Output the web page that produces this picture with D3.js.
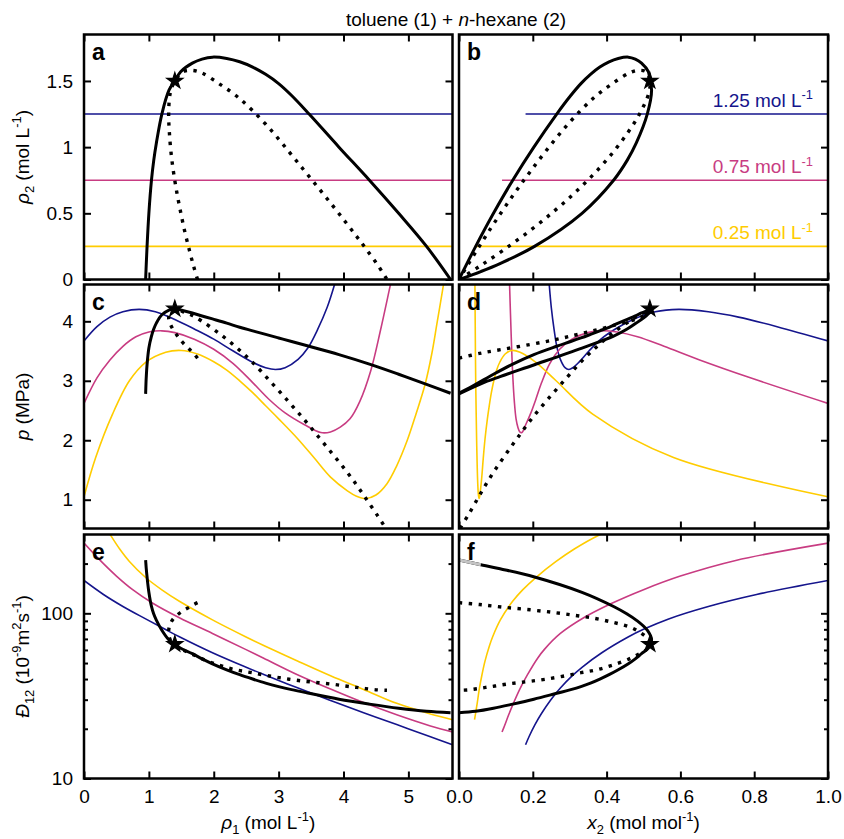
<!DOCTYPE html>
<html>
<head>
<meta charset="utf-8">
<script src="https://cdn.jsdelivr.net/npm/d3@7"></script>
<style>
  body { margin: 0; background: #fff; }
</style>
</head>
<body>
<div id="chart"></div>
<script>
// ---------- data ----------
// isochores (constant rho2, mol/L)
const isoRho2 = [1.25, 0.75, 0.25];
const isoLabels = ["1.25", "0.75", "0.25"];

// pressure (MPa) along each isochore: [rho1, p]
const isoP125 = [[0, 3.67], [0.2, 3.91], [0.4, 4.07], [0.6, 4.16], [0.85, 4.2], [1.1, 4.16], [1.4, 4.03],
  [1.7, 3.87], [2.0, 3.7], [2.3, 3.5], [2.6, 3.31], [2.8, 3.22], [2.95, 3.19], [3.1, 3.22], [3.3, 3.36],
  [3.45, 3.55], [3.6, 3.86], [3.75, 4.24], [3.86, 4.61], [3.92, 4.85]];
const isoP075 = [[0, 2.62], [0.2, 3.05], [0.4, 3.35], [0.6, 3.58], [0.8, 3.74], [1.0, 3.82], [1.2, 3.84],
  [1.4, 3.81], [1.7, 3.7], [2.0, 3.53], [2.3, 3.29], [2.6, 2.97], [2.85, 2.69], [3.1, 2.46], [3.4, 2.26],
  [3.65, 2.13], [3.8, 2.14], [3.95, 2.22], [4.1, 2.36], [4.25, 2.65], [4.42, 3.17], [4.57, 3.85],
  [4.72, 4.6], [4.78, 4.9]];
const isoP025 = [[0, 1.05], [0.18, 1.71], [0.44, 2.44], [0.7, 3.0], [0.95, 3.31], [1.26, 3.48], [1.5, 3.51],
  [1.75, 3.45], [2.0, 3.32], [2.2, 3.18], [2.4, 3.0], [2.6, 2.8], [2.8, 2.58], [3.0, 2.36], [3.29, 2.03],
  [3.55, 1.7], [3.8, 1.38], [4.06, 1.15], [4.2, 1.06], [4.34, 1.02], [4.5, 1.08], [4.67, 1.27],
  [4.82, 1.57], [4.98, 1.99], [5.12, 2.45], [5.26, 2.95], [5.36, 3.45], [5.44, 3.96], [5.54, 4.61], [5.58, 4.9]];

// diffusion coefficient (1e-9 m2/s) along each isochore: [rho1, D12]
const isoD125 = [[0, 158], [0.3, 130], [0.6, 110], [0.95, 92.5], [1.25, 80], [1.47, 72.1], [1.98, 57.7],
  [2.49, 47.3], [2.8, 42.2], [3.29, 35.4], [3.8, 29.7], [4.31, 25.0], [4.82, 21.2], [5.34, 17.9], [5.68, 16.0]];
const isoD075 = [[0, 266], [0.25, 209], [0.5, 168], [0.75, 139], [1.06, 115], [1.47, 94], [1.98, 75.5],
  [2.49, 60.5], [2.77, 53.5], [3.29, 42.5], [3.8, 34.8], [4.31, 28.8], [4.82, 24.3], [5.34, 20.8], [5.68, 19.1]];
const isoD025 = [[0.3, 350], [0.41, 297], [0.55, 245], [0.7, 206], [0.95, 164.7], [1.2, 138.7], [1.47, 118.3],
  [1.98, 91.3], [2.49, 72.2], [2.77, 63.9], [3.29, 51.5], [3.8, 41.9], [4.31, 34.6], [4.82, 28.5], [5.34, 24.6], [5.68, 22.7]];

// binodal (solid), vapour end -> critical point -> liquid end: [rho1, rho2, p, D12]
const binodal = [
  [0.95, 0.00, 2.78, 210], [0.955, 0.06, 2.95, 197], [0.96, 0.12, 3.07, 186], [0.972, 0.25, 3.27, 166],
  [1.00, 0.50, 3.55, 134], [1.04, 0.75, 3.75, 110], [1.075, 0.90, 3.87, 99], [1.115, 1.03, 3.97, 91],
  [1.20, 1.25, 4.11, 79], [1.31, 1.43, 4.19, 69], [1.40, 1.50, 4.21, 65],
  [1.49, 1.57, 4.19, 61.5], [1.67, 1.635, 4.14, 57], [1.82, 1.665, 4.09, 53], [1.98, 1.68, 4.04, 49.5],
  [2.20, 1.67, 3.97, 45.5], [2.40, 1.645, 3.90, 42.5], [2.60, 1.605, 3.84, 40], [2.80, 1.55, 3.78, 37.8],
  [3.00, 1.48, 3.72, 36], [3.20, 1.39, 3.66, 34.5], [3.47, 1.25, 3.58, 32.8], [3.93, 1.00, 3.44, 30.2],
  [4.40, 0.75, 3.28, 28.2], [4.85, 0.50, 3.11, 26.6], [5.28, 0.25, 2.94, 25.5], [5.65, 0.00, 2.79, 25]
];
// spinodal (dotted): [rho1, rho2, p, D12]
const spinodal = [
  [1.75, 0.00, 3.38, 116], [1.69, 0.10, 3.46, 113], [1.625, 0.22, 3.53, 109], [1.55, 0.37, 3.61, 105],
  [1.485, 0.52, 3.69, 101], [1.43, 0.66, 3.77, 97], [1.38, 0.81, 3.85, 93], [1.34, 0.965, 3.93, 88],
  [1.315, 1.12, 4.0, 83], [1.305, 1.25, 4.06, 77], [1.33, 1.41, 4.15, 69], [1.40, 1.50, 4.21, 65],
  [1.53, 1.57, 4.16, 60], [1.67, 1.58, 4.10, 56.5], [1.82, 1.56, 4.0, 53], [2.08, 1.48, 3.80, 48.5],
  [2.34, 1.39, 3.57, 45.5], [2.59, 1.28, 3.32, 43.7], [2.88, 1.13, 2.98, 41.6], [3.16, 0.965, 2.64, 39.9],
  [3.40, 0.82, 2.34, 38.8], [3.62, 0.688, 2.05, 38.0], [3.83, 0.56, 1.77, 37.2], [4.03, 0.435, 1.50, 36.3],
  [4.20, 0.327, 1.25, 35.6], [4.34, 0.236, 1.03, 35.0], [4.52, 0.115, 0.74, 34.4], [4.67, 0.00, 0.49, 34.2]
];
const critical = [1.40, 1.50, 4.21, 65];

const isoP = [isoP125, isoP075, isoP025];
const isoD = [isoD125, isoD075, isoD025];
const isoColors = ["#15158c", "#c83c82", "#ffcc00"];

const rho1Ticks = [0, 1, 2, 3, 4, 5];
const x2Ticks = [0, 0.2, 0.4, 0.6, 0.8, 1.0];
const rowTicks = [[0, 0.5, 1, 1.5], [1, 2, 3, 4], [10, 100]];
const dMinorTicks = [20, 30, 40, 50, 60, 70, 80, 90, 200];

// ---------- layout ----------
const FONT = "'Liberation Sans', Arial, Helvetica, sans-serif";
const FS = 19;
const colX = [[84, 452.5], [459, 828]];
const rowY = [[34.5, 279.5], [284.5, 528.5], [534.5, 778.5]];

const xScales = [
  d3.scaleLinear().domain([0, 5.68]).range(colX[0]),
  d3.scaleLinear().domain([0, 1]).range(colX[1])
];
const yScales = [
  d3.scaleLinear().domain([0, 1.851]).range([rowY[0][1], rowY[0][0]]),
  d3.scaleLinear().domain([0.516, 4.619]).range([rowY[1][1], rowY[1][0]]),
  d3.scaleLog().domain([10, 300]).range([rowY[2][1], rowY[2][0]])
];
const rho1Max = xScales[0].domain()[1];

const svg = d3.select("#chart").append("svg")
  .attr("width", 844).attr("height", 839)
  .attr("font-family", FONT)
  .style("background", "#fff");

// text with sub/superscripts
function rich(sel, parts, fs) {
  let off = 0;
  parts.forEach(p => {
    const target = p.sub ? fs * 0.24 : p.sup ? -fs * 0.4 : 0;
    const ts = sel.append("tspan").attr("dy", target - off).text(p.t);
    off = target;
    if (p.sub || p.sup) ts.attr("font-size", fs * 0.68);
    if (p.i) ts.attr("font-style", "italic");
  });
}

const mol = d => ({r1: d[0], r2: d[1], v: d[2]});
const asPts = (rows, row) => rows.map(d => mol([d[0], d[1], d[row + 1]]));
const isoPts = (rows, rho2) => rows.map(d => mol([d[0], rho2, d[1]]));

function styleAxis(a) {
  a.attr("font-size", null).attr("font-family", null);
  a.select(".domain").remove();
  a.selectAll(".tick line").attr("stroke", "#000").attr("stroke-width", 2);
  a.selectAll(".tick text").attr("font-size", FS).attr("fill", "#000");
}

const letters = ["a", "b", "c", "d", "e", "f"];

for (let r = 0; r < 3; r++) {
  for (let c = 0; c < 2; c++) {
    const x = xScales[c], y = yScales[r];
    const [x0, x1] = colX[c], [y0, y1] = rowY[r];
    const g = svg.append("g");
    const clipId = `clip-${r}-${c}`;
    g.append("clipPath").attr("id", clipId)
      .append("rect").attr("x", x0).attr("y", y0).attr("width", x1 - x0).attr("height", y1 - y0);
    const plot = g.append("g").attr("clip-path", `url(#${clipId})`);

    const xv = p => x(c ? p.r2 / (p.r1 + p.r2) : p.r1);
    const smooth = d3.line().x(xv).y(p => y(p.v)).curve(d3.curveCatmullRom.alpha(0.5));
    const straight = d3.line().x(xv).y(p => y(p.v));

    // isochores
    isoRho2.forEach((rho2, i) => {
      let pts, gen = smooth;
      if (r === 0) { pts = isoPts([[0, rho2], [rho1Max, rho2]], rho2); gen = straight; }
      else pts = isoPts(r === 1 ? isoP[i] : isoD[i], rho2);
      plot.append("path").datum(pts).attr("d", gen)
        .attr("fill", "none").attr("stroke", isoColors[i]).attr("stroke-width", 1.6);
    });

    // spinodal
    plot.append("path").datum(asPts(spinodal, r)).attr("d", smooth)
      .attr("fill", "none").attr("stroke", "#000").attr("stroke-width", 3.4)
      .attr("stroke-dasharray", "3.4,6.4");

    // binodal
    plot.append("path").datum(asPts(binodal, r)).attr("d", smooth)
      .attr("fill", "none").attr("stroke", "#000").attr("stroke-width", 3)
      .attr("stroke-linejoin", "round");
    if (r === 2 && c === 1) {
      plot.append("path").datum(asPts(binodal.slice(0, 2), r)).attr("d", straight)
        .attr("fill", "none").attr("stroke", "#c4c4c4").attr("stroke-width", 3);
    }

    // critical point
    const cp = mol([critical[0], critical[1], critical[r + 1]]);
    g.append("path").attr("d", d3.symbol(d3.symbolStar, 80)())
      .attr("transform", `translate(${xv(cp)},${y(cp.v)})`)
      .attr("fill", "#000").attr("stroke", "#000").attr("stroke-width", 1.2);

    // axes (inward ticks)
    const xt = c ? x2Ticks : rho1Ticks;
    const xFmt = c ? d3.format(".1f") : d3.format("d");
    g.append("g").attr("transform", `translate(0,${y1})`)
      .call(d3.axisBottom(x).tickValues(xt).tickSize(-7).tickPadding(11)
        .tickFormat(r === 2 ? xFmt : () => ""))
      .call(styleAxis);
    g.append("g").attr("transform", `translate(0,${y0})`)
      .call(d3.axisTop(x).tickValues(xt).tickSize(-7).tickFormat(() => ""))
      .call(styleAxis);
    if (c === 0) {
      g.append("g").attr("transform", `translate(${x0},0)`)
        .call(d3.axisLeft(y).tickValues(rowTicks[r]).tickSize(-7).tickPadding(11).tickFormat(d3.format("~g")))
        .call(styleAxis);
      if (r === 2) {
        g.append("g").attr("transform", `translate(${x0},0)`)
          .call(d3.axisLeft(y).tickValues(dMinorTicks).tickSize(-4).tickFormat(() => ""))
          .call(styleAxis);
      }
    }
    g.append("g").attr("transform", `translate(${x1},0)`)
      .call(d3.axisRight(y).tickValues(rowTicks[r]).tickSize(-7).tickFormat(() => ""))
      .call(styleAxis);
    if (r === 2) {
      g.append("g").attr("transform", `translate(${x1},0)`)
        .call(d3.axisRight(y).tickValues(dMinorTicks).tickSize(-4).tickFormat(() => ""))
        .call(styleAxis);
    }

    // frame
    g.append("rect").attr("x", x0).attr("y", y0).attr("width", x1 - x0).attr("height", y1 - y0)
      .attr("fill", "none").attr("stroke", "#000").attr("stroke-width", 2.5);

    // panel letter
    g.append("text").attr("x", x0 + 8).attr("y", y0 + 25)
      .attr("font-size", 23).attr("font-weight", "bold").text(letters[r * 2 + c]);
  }
}

// isochore labels in panel b
isoRho2.forEach((rho2, i) => {
  const t = svg.append("text").attr("x", 813).attr("y", yScales[0](rho2) - 7)
    .attr("text-anchor", "end").attr("font-size", FS).attr("fill", isoColors[i]);
  rich(t, [{t: isoLabels[i] + " mol L"}, {t: "-1", sup: true}], FS);
});

// title
const title = svg.append("text").attr("x", 456).attr("y", 26)
  .attr("text-anchor", "middle").attr("font-size", FS);
rich(title, [{t: "toluene (1) + "}, {t: "n", i: true}, {t: "-hexane (2)"}], FS);

// axis titles
const yTitles = [
  [{t: "ρ", i: true}, {t: "2", sub: true}, {t: " (mol L"}, {t: "-1", sup: true}, {t: ")"}],
  [{t: "p", i: true}, {t: " (MPa)"}],
  [{t: "Đ", i: true}, {t: "12", sub: true}, {t: " (10"}, {t: "-9", sup: true}, {t: "m"}, {t: "2", sup: true},
    {t: "s"}, {t: "-1", sup: true}, {t: ")"}]
];
yTitles.forEach((parts, r) => {
  const t = svg.append("text")
    .attr("transform", `translate(29,${(rowY[r][0] + rowY[r][1]) / 2}) rotate(-90)`)
    .attr("text-anchor", "middle").attr("font-size", FS);
  rich(t, parts, FS);
});
const xTitles = [
  [{t: "ρ", i: true}, {t: "1", sub: true}, {t: " (mol L"}, {t: "-1", sup: true}, {t: ")"}],
  [{t: "x", i: true}, {t: "2", sub: true}, {t: " (mol mol"}, {t: "-1", sup: true}, {t: ")"}]
];
xTitles.forEach((parts, c) => {
  const t = svg.append("text").attr("x", (colX[c][0] + colX[c][1]) / 2).attr("y", 829)
    .attr("text-anchor", "middle").attr("font-size", FS);
  rich(t, parts, FS);
});
</script>
</body>
</html>
